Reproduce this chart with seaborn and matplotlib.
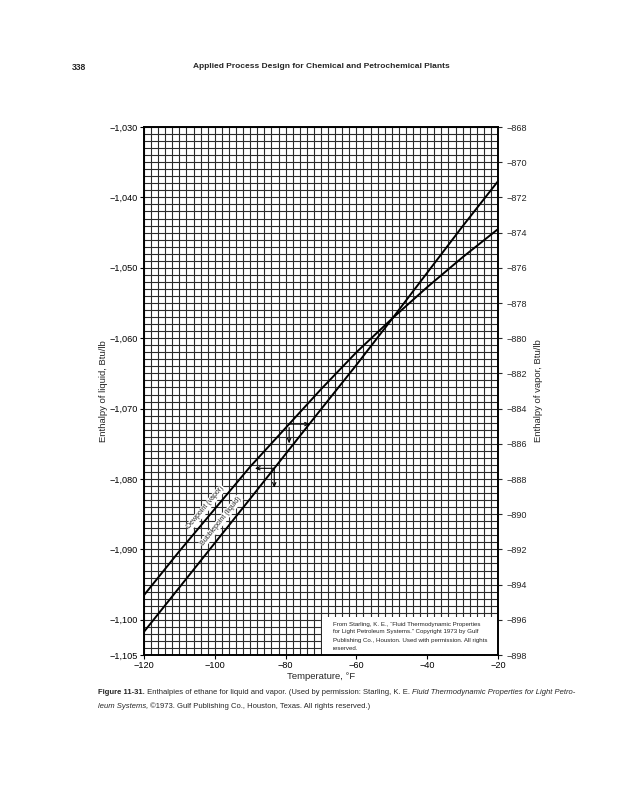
import numpy as np
import pandas as pd
import matplotlib
matplotlib.use("Agg")
import matplotlib.pyplot as plt
import seaborn as sns
from matplotlib.ticker import FuncFormatter
from matplotlib.patches import Rectangle

# ---------------- data ----------------
temps = [-120, -110, -100, -90, -80, -70, -60, -50, -40, -30, -20]
dewpoint_vapor = [-894.6, -892.1, -889.7, -887.3, -885.1, -882.9,
                  -880.8, -878.9, -877.1, -875.4, -873.8]
bubblepoint_liquid = [-1101.7, -1095.4, -1089.1, -1082.8, -1076.45, -1070.1,
                      -1063.8, -1057.3, -1050.7, -1044.1, -1037.7]

x_ticks = [-120, -100, -80, -60, -40, -20]
left_ticks = [-1105, -1100, -1090, -1080, -1070, -1060, -1050, -1040, -1030]
right_ticks = list(range(-898, -867, 2))

header_page = "338"
header_title = "Applied Process Design for Chemical and Petrochemical Plants"
x_label = "Temperature, °F"
left_label = "Enthalpy of liquid, Btu/lb"
right_label = "Enthalpy of vapor, Btu/lb"
dew_label = "Dewpoint (vapor)"
bubble_label = "Bubblepoint (liquid)"
source_lines = [
    "From Starling, K. E., \u201cFluid Thermodynamic Properties",
    "for Light Petroleum Systems.\u201d Copyright 1973 by Gulf",
    "Publishing Co., Houston. Used with permission. All rights",
    "reserved.",
]

df = pd.DataFrame({"T": temps, "vapor": dewpoint_vapor, "liquid": bubblepoint_liquid})

# ---------------- style ----------------
sns.set_theme(style="ticks")
plt.rcParams["font.family"] = ["Liberation Sans", "DejaVu Sans"]

W, H = 630, 800
fig = plt.figure(figsize=(W / 100, H / 100), dpi=100)
fig.patch.set_facecolor("white")
ax = fig.add_axes([144 / W, 1 - 655 / H, (498 - 144) / W, (655 - 127) / H])
ax.set_facecolor("white")

xmin, xmax = -120, -20
lmin, lmax = -1105, -1030
rmin, rmax = -898, -868
ax.set_xlim(xmin, xmax)
ax.set_ylim(lmin, lmax)

# grid (fine chart paper)
ax.vlines(np.arange(xmin, xmax + 1, 2), lmin, lmax, color="#2a2a2a", lw=0.8, zorder=1)
ax.hlines(np.arange(lmin, lmax + 1, 1), xmin, xmax, color="#2a2a2a", lw=0.8, zorder=1)

# source box
ax.add_patch(Rectangle((0.503, 0.0), 0.497, 0.072, transform=ax.transAxes,
                       facecolor="white", edgecolor="none", zorder=2))
ys = [0.0587, 0.0436, 0.0284, 0.0124]
for s, yy in zip(source_lines, ys):
    ax.text(0.534, yy, s, transform=ax.transAxes, fontsize=4.45, va="center",
            ha="left", color="#222222", zorder=2.6)

# liquid line (left axis)
sns.lineplot(data=df, x="T", y="liquid", ax=ax, color="black", lw=1.4, zorder=3)

ax2 = ax.twinx()
ax2.set_ylim(rmin, rmax)
sns.lineplot(data=df, x="T", y="vapor", ax=ax2, color="black", lw=1.4, zorder=3)
ax2.set_xlim(xmin, xmax)

# ticks
fmt = FuncFormatter(lambda v, p: f"{v:,.0f}".replace("-", "\u2212"))
ax.set_xticks(x_ticks)
ax.set_xticks(np.arange(xmin, xmax + 1, 2), minor=True)
ax.xaxis.set_major_formatter(fmt)
ax.set_yticks(left_ticks)
ax.yaxis.set_major_formatter(fmt)
ax2.set_yticks(right_ticks)
ax2.yaxis.set_major_formatter(fmt)
ax.tick_params(axis="both", which="major", labelsize=6.6, length=3, width=0.8,
               direction="out", pad=1.2, colors="black")
ax.tick_params(axis="x", which="minor", direction="in", length=4, width=0.6, color="black")
ax.tick_params(axis="y", which="minor", length=0)
ax2.tick_params(axis="y", labelsize=6.6, length=3, width=0.8, direction="out", pad=3)

for a in (ax, ax2):
    for sp in a.spines.values():
        sp.set_linewidth(1.2)
        sp.set_color("black")

ax.set_xlabel(x_label, fontsize=6.8, labelpad=1.5)
ax.set_ylabel(left_label, fontsize=6.8, labelpad=1.5)
ax2.set_ylabel(right_label, fontsize=6.8, labelpad=5)

# labels along the lines
def angle_on(a, xs, ys, x0):
    y0 = np.interp(x0, xs, ys)
    y1 = np.interp(x0 + 2, xs, ys)
    p0 = a.transData.transform((x0, y0))
    p1 = a.transData.transform((x0 + 2, y1))
    return np.degrees(np.arctan2(p1[1] - p0[1], p1[0] - p0[0])), y0

fig.canvas.draw()
T_dl = -101.0
ang_d, yd = angle_on(ax2, temps, dewpoint_vapor, T_dl)
ax2.annotate(dew_label, xy=(T_dl, yd), xytext=(-4.0, 4.0), textcoords="offset points",
             rotation=ang_d, rotation_mode="anchor", ha="center", va="center",
             fontsize=5.0, zorder=4,
             bbox=dict(boxstyle="square,pad=0.1", fc="white", ec="none"))
T_bl = -96.5
ang_b, yb = angle_on(ax, temps, bubblepoint_liquid, T_bl)
ax.annotate(bubble_label, xy=(T_bl, yb), xytext=(-4.5, 4.5), textcoords="offset points",
            rotation=ang_b, rotation_mode="anchor", ha="center", va="center",
            fontsize=5.0, zorder=4,
            bbox=dict(boxstyle="square,pad=0.1", fc="white", ec="none"))

# reading arrows
arrow = dict(arrowstyle="<-,head_length=0.35,head_width=0.15", lw=0.8, color="black",
             shrinkA=0, shrinkB=0, mutation_scale=8)
T_v = -79.0
yv = np.interp(T_v, temps, dewpoint_vapor)
ax2.annotate("", xy=(T_v, yv), xytext=(15, 0), textcoords="offset points", arrowprops=arrow)
ax2.annotate("", xy=(T_v, yv), xytext=(0, -14), textcoords="offset points",
             arrowprops=dict(arrow, shrinkB=2.5))
T_l = -83.2
yl = np.interp(T_l, temps, bubblepoint_liquid)
ax.annotate("", xy=(T_l, yl), xytext=(-14, 0), textcoords="offset points", arrowprops=arrow, zorder=4)
ax.annotate("", xy=(T_l, yl), xytext=(0, -14), textcoords="offset points", arrowprops=arrow, zorder=4)

# page header
fig.text(72 / W, 1 - 67 / H, header_page, fontsize=6.2, weight="bold", va="center", ha="left")
fig.text(321 / W, 1 - 67 / H, header_title, fontsize=6.0, weight="bold", va="center", ha="center")

# caption with mixed styles
renderer = fig.canvas.get_renderer()
def run(pieces, x0, y):
    x = x0
    for s, style, weight in pieces:
        t = fig.text(x / W, 1 - y / H, s, fontsize=5.5, style=style, weight=weight,
                     va="center", ha="left")
        bb = t.get_window_extent(renderer)
        x = bb.x1

run([("Figure 11-31.", "normal", "bold"),
     (" Enthalpies of ethane for liquid and vapor. (Used by permission: Starling, K. E. ", "normal", "normal"),
     ("Fluid Thermodynamic Properties for Light Petro-", "italic", "normal")], 98, 693)
run([("leum Systems,", "italic", "normal"),
     (" \u00a91973. Gulf Publishing Co., Houston, Texas. All rights reserved.)", "normal", "normal")], 98, 706)

fig.savefig("out.png", dpi=100, facecolor="white")
